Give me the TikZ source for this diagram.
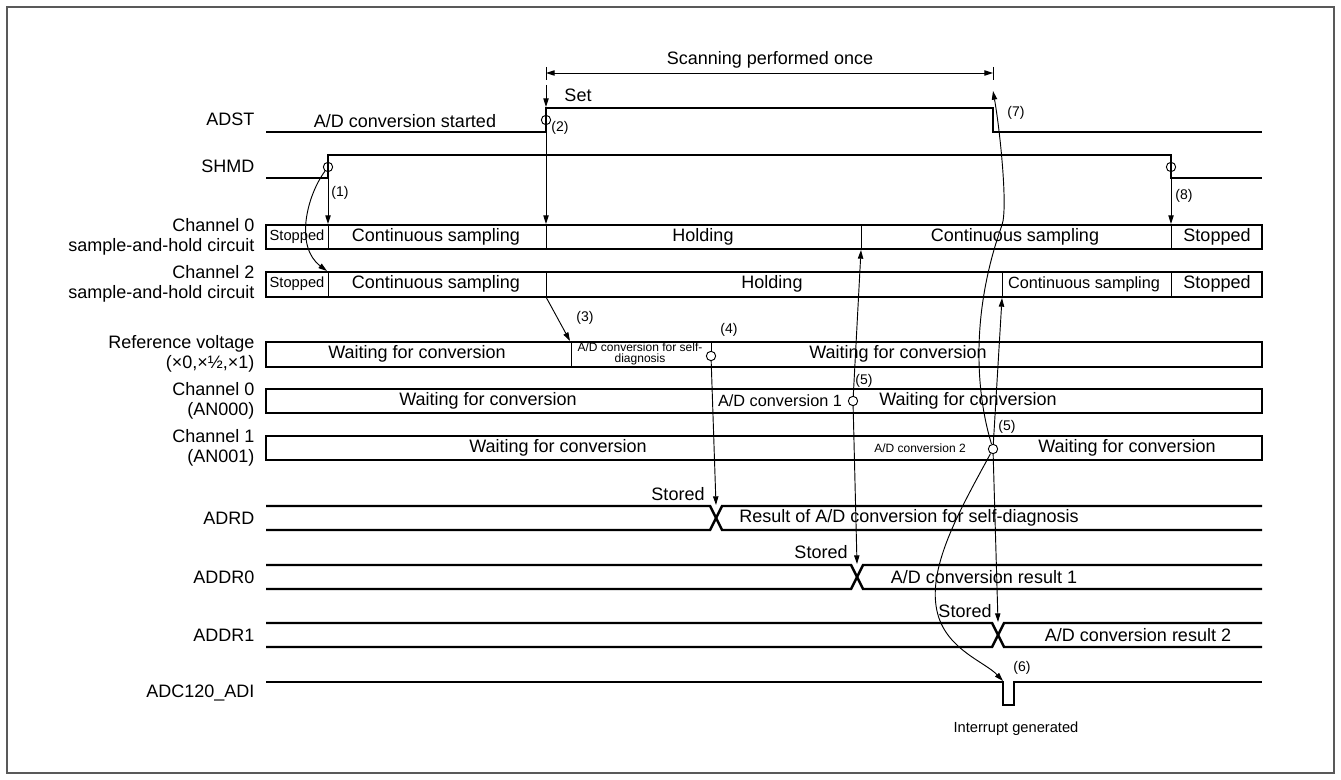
\documentclass[tikz,border=0pt]{standalone}
\usepackage{fontspec}
\setmainfont{Liberation Sans}
\usetikzlibrary{arrows.meta}
\begin{document}
\begin{tikzpicture}[x=0.75pt,y=-0.75pt,
  wave/.style={line width=1.85pt,line join=miter},
  boxln/.style={line width=1.85pt},
  div/.style={line width=0.7pt},
  tip/.tip={Triangle[length=6.5pt,width=4pt]},
  arr/.style={line width=0.7pt,-tip},
  dimarr/.style={line width=0.7pt,tip-tip},
  ring/.style={circle,draw,line width=0.7pt,inner sep=0pt,minimum size=7pt},
  lbl/.style={anchor=east,align=right,inner sep=1pt,font=\fontsize{13.5}{14.5}\selectfont},
  txt/.style={inner sep=1pt,font=\fontsize{13.5}{15}\selectfont},
  stxt/.style={inner sep=1pt,font=\fontsize{11}{12}\selectfont},
  mtxt/.style={inner sep=1pt,font=\fontsize{12.2}{13}\selectfont},
  tinytxt/.style={inner sep=1pt,align=center,font=\fontsize{9}{8}\selectfont},
  num/.style={inner sep=1pt,font=\fontsize{10.5}{12}\selectfont},
]
\useasboundingbox (0,0) rectangle (1341,780);
\draw[line width=1.4pt,draw=black!65] (7,7) rectangle (1334,773);

% left labels
\node[lbl] (lADST) at (256,119) {ADST};
\node[lbl] (lSHMD) at (256,166) {SHMD};
\node[lbl] (lCh0SH) at (256,237) {Channel 0\\sample-and-hold circuit};
\node[lbl] (lCh2SH) at (256,284) {Channel 2\\sample-and-hold circuit};
\node[lbl] (lRef) at (256,354) {Reference voltage\\(×0,×½,×1)};
\node[lbl] (lCh0) at (256,401) {Channel 0\\(AN000)};
\node[lbl] (lCh1) at (256,448) {Channel 1\\(AN001)};
\node[lbl] (lADRD) at (256,518) {ADRD};
\node[lbl] (lADDR0) at (256,577) {ADDR0};
\node[lbl] (lADDR1) at (256,635) {ADDR1};
\node[lbl] (lADI) at (256,693) {ADC120\_ADI};

% ADST and SHMD
\draw[wave] (266,132) -- (546,132) -- (546,108) -- (993,108) -- (993,132) -- (1262,132);
\draw[wave] (266,178) -- (328,178) -- (328,155) -- (1171,155) -- (1171,178) -- (1262,178);

% boxes
\draw[boxln] (266,225) rectangle (1262,249);
\foreach \x in {328,546,861,1171} \draw[div] (\x,225) -- (\x,249);
\draw[boxln] (266,272) rectangle (1262,297);
\foreach \x in {328,546,1002,1171} \draw[div] (\x,272) -- (\x,297);
\draw[boxln] (266,342) rectangle (1262,367);
\draw[div] (571,342) -- (571,367);
\draw[boxln] (266,389) rectangle (1262,413);
\draw[boxln] (266,436) rectangle (1262,460);

% buses
\draw[wave] (266,506) -- (710,506) -- (722,530) -- (1262,530);
\draw[wave] (266,530) -- (710,530) -- (722,506) -- (1262,506);
\draw[wave] (266,565) -- (851,565) -- (863,589) -- (1262,589);
\draw[wave] (266,589) -- (851,589) -- (863,565) -- (1262,565);
\draw[wave] (266,623) -- (992,623) -- (1004,647) -- (1262,647);
\draw[wave] (266,647) -- (992,647) -- (1004,623) -- (1262,623);
\draw[wave] (266,682) -- (1003,682) -- (1003,705) -- (1014,705) -- (1014,682) -- (1262,682);

% segment texts
\node[stxt] (s00) at (297,237) {Stopped};
\node[txt] (s01) at (436,237) {Continuous sampling};
\node[txt] (s02) at (703,237) {Holding};
\node[txt] (s03) at (1015,237) {Continuous sampling};
\node[txt] (s04) at (1217,237) {Stopped};
\node[stxt] (s20) at (297,284) {Stopped};
\node[txt] (s21) at (436,284) {Continuous sampling};
\node[txt] (s22) at (772,284) {Holding};
\node[mtxt] (s23) at (1084,284) {Continuous sampling};
\node[txt] (s24) at (1217,284) {Stopped};
\node[txt] (r0) at (417,354) {Waiting for conversion};
\node[tinytxt] (r1) at (640,354) {A/D conversion for self-\\diagnosis};
\node[txt] (r2) at (898,354) {Waiting for conversion};
\node[txt] (c00) at (488,401) {Waiting for conversion};
\node[mtxt] (c01) at (780,401) {A/D conversion 1};
\node[txt] (c02) at (968,401) {Waiting for conversion};
\node[txt] (c10) at (558,448) {Waiting for conversion};
\node[tinytxt] (c11) at (920,448) {A/D conversion 2};
\node[txt] (c12) at (1127,448) {Waiting for conversion};
\node[txt] (bADRD) at (909,518) {Result of A/D conversion for self-diagnosis};
\node[txt] (bADDR0) at (984,577) {A/D conversion result 1};
\node[txt] (bADDR1) at (1138,635) {A/D conversion result 2};

% other texts
\node[txt] (tScan) at (770,60) {Scanning performed once};
\node[txt] (tSet) at (578,95) {Set};
\node[txt] (tStart) at (405,121) {A/D conversion started};
\node[txt] (st1) at (678,494) {Stored};
\node[txt] (st2) at (821,552) {Stored};
\node[txt] (st3) at (965,611) {Stored};
\node[stxt] (tInt) at (1016,729) {Interrupt generated};
\node[num] (n1) at (340,193) {(1)};
\node[num] (n2) at (560,128) {(2)};
\node[num] (n3) at (585,318) {(3)};
\node[num] (n4) at (729,330) {(4)};
\node[num] (n5a) at (864,381) {(5)};
\node[num] (n5b) at (1007,427) {(5)};
\node[num] (n6) at (1022,668) {(6)};
\node[num] (n7) at (1016,113) {(7)};
\node[num] (n8) at (1184,196) {(8)};

% rings
\node[ring] (g1) at (328,167) {};
\node[ring] (g2) at (546,120) {};
\node[ring] (g8) at (1171,167) {};
\node[ring] (g4) at (711,356) {};
\node[ring] (g5a) at (853,401) {};
\node[ring] (g5b) at (993,449) {};

% dimension
\coordinate (dL) at (546,73);
\coordinate (dR) at (993,73);
\coordinate (dLt) at (546,67); \coordinate (dLb) at (546,80);
\coordinate (dRt) at (993,67); \coordinate (dRb) at (993,80);
\draw[dimarr] (dL) -- (dR);
\draw[div] (dLt) -- (dLb);
\draw[div] (dRt) -- (dRb);

% arrows
\coordinate (setS) at (546,85); \coordinate (setE) at (546,107);
\draw[arr] (setS) -- (setE);
\coordinate (a2) at (546,224);
\draw[arr] (g2) -- (a2);
\coordinate (a1) at (328,224);
\draw[arr] (g1) -- (a1);
\coordinate (a1c) at (327,271);
\draw[arr] (g1) .. controls (306,197) and (295,247) .. (a1c);
\coordinate (a8) at (1171,224);
\draw[arr] (g8) -- (a8);
\coordinate (a3s) at (546,297); \coordinate (a3e) at (570,341);
\draw[arr] (a3s) -- (a3e);
\coordinate (t4) at (711,342);
\draw[div] (t4) -- (g4);
\coordinate (a4) at (716,505);
\draw[arr] (g4) -- (a4);
\coordinate (a5au) at (861,250); \coordinate (a5ad) at (857,564);
\draw[arr] (g5a) -- (a5au);
\draw[arr] (g5a) -- (a5ad);
\coordinate (a5bu) at (1002,298); \coordinate (a5bd) at (998,622);
\draw[arr] (g5b) -- (a5bu);
\draw[arr] (g5b) -- (a5bd);
\coordinate (a7) at (993,91);
\draw[arr] (g5b) .. controls (978,400) and (968,320) .. (1002,225) .. controls (1008,208) and (1000,130) .. (a7);
\coordinate (a6) at (1003,681);
\draw[arr] (g5b) .. controls (960,510) and (925,570) .. (938,615) .. controls (948,650) and (985,662) .. (a6);
\end{tikzpicture}
\end{document}
